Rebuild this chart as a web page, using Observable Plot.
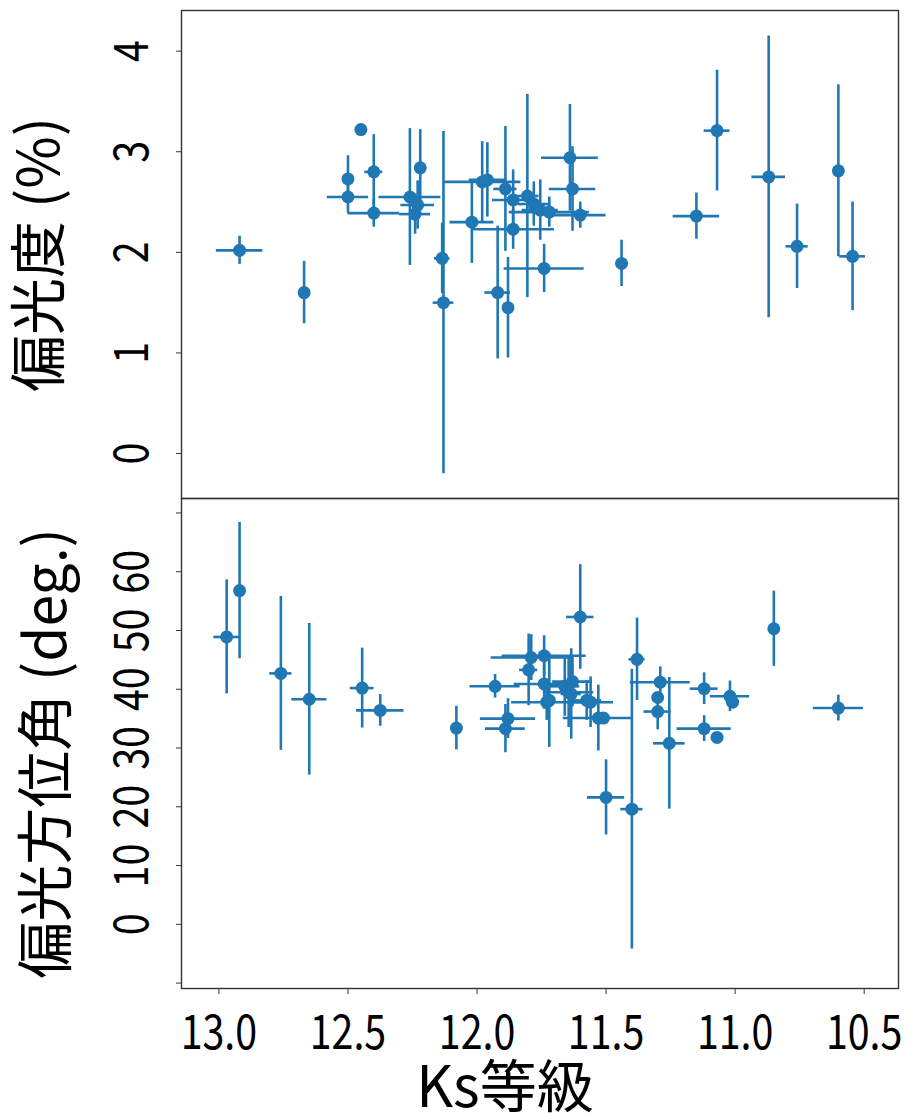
<!DOCTYPE html>
<html>
<head>
<meta charset="utf-8">
<script src="https://cdn.jsdelivr.net/npm/d3@7"></script>
<script src="https://cdn.jsdelivr.net/npm/@observablehq/plot@0.6"></script>
<style>
  body { margin: 0; background: #fff; }
  #chart { width: 910px; }
  #chart svg { display: block; overflow: visible; }
</style>
</head>
<body>
<div id="chart"></div>
<script>
// Upper panel: degree of polarization (%) against Ks magnitude, with errors
const polMag    = [12.92, 12.67, 12.45, 12.50, 12.50, 12.40, 12.40, 12.22, 12.26, 12.23, 12.24, 12.135, 12.13, 12.02, 11.98, 11.96, 11.92, 11.88, 11.89, 11.86, 11.86, 11.805, 11.78, 11.755, 11.72, 11.74, 11.64, 11.63, 11.60, 11.44, 11.15, 11.07, 10.87, 10.76, 10.60, 10.545];
const polValue  = [2.02, 1.60, 3.22, 2.73, 2.55, 2.80, 2.39, 2.84, 2.55, 2.47, 2.38, 1.94, 1.50, 2.30, 2.70, 2.72, 1.60, 1.45, 2.63, 2.52, 2.23, 2.56, 2.48, 2.42, 2.40, 1.84, 2.94, 2.63, 2.37, 1.89, 2.36, 3.21, 2.75, 2.06, 2.81, 1.96];
const polMagErr = [0.09, 0, 0, 0, 0.08, 0.035, 0.10, 0, 0.12, 0.065, 0.06, 0.03, 0.04, 0.085, 0.15, 0.07, 0.05, 0, 0.045, 0.08, 0.16, 0.045, 0.06, 0.07, 0.155, 0.155, 0.11, 0.09, 0.10, 0, 0.09, 0.05, 0.065, 0.043, 0, 0.05];
const polErr    = [0.14, 0.31, 0, 0.23, 0.16, 0.37, 0.14, 0.38, 0.68, 0.24, 0.20, 0.35, 1.70, 0.41, 0.40, 0.37, 0.66, 0.50, 0.62, 0.30, 0.20, 1.01, 0.22, 0.30, 0.15, 0.24, 0.53, 0.42, 0.13, 0.23, 0.23, 0.60, 1.40, 0.42, 0.855, 0.54];

// Lower panel: polarization position angle (deg.) against Ks magnitude
const angMag    = [12.97, 12.92, 12.76, 12.65, 12.445, 12.375, 12.08, 11.93, 11.88, 11.89, 11.80, 11.79, 11.74, 11.74, 11.73, 11.72, 11.66, 11.645, 11.635, 11.63, 11.60, 11.575, 11.56, 11.53, 11.51, 11.50, 11.40, 11.38, 11.29, 11.30, 11.30, 11.255, 11.12, 11.12, 11.07, 11.02, 11.01, 10.85, 10.60];
const angValue  = [48.9, 56.8, 42.7, 38.3, 40.2, 36.4, 33.4, 40.5, 35.0, 33.3, 43.3, 45.4, 45.7, 40.9, 37.8, 38.1, 40.5, 39.5, 39.2, 41.3, 52.3, 38.1, 37.8, 35.1, 35.1, 21.6, 19.6, 45.1, 41.2, 38.6, 36.2, 30.8, 40.1, 33.3, 31.8, 38.8, 37.8, 50.3, 36.8];
const angMagErr = [0.05, 0, 0.043, 0.068, 0.046, 0.092, 0, 0.097, 0.107, 0.077, 0.035, 0.155, 0.163, 0.116, 0.136, 0, 0.058, 0.097, 0.039, 0.077, 0.053, 0.058, 0.089, 0.136, 0, 0.072, 0.043, 0.031, 0.116, 0, 0.053, 0.061, 0.054, 0.105, 0, 0.076, 0, 0, 0.097];
const angErr    = [9.7, 11.6, 13.1, 12.9, 6.8, 2.7, 3.7, 2.0, 3.4, 4.1, 6.1, 3.9, 3.4, 4.3, 3.1, 8.0, 5.1, 6.0, 7.7, 4.3, 8.9, 3.4, 4.3, 5.6, 0, 6.4, 23.8, 7.0, 2.6, 0, 3.1, 11.2, 2.7, 2.2, 0, 2.6, 0, 6.4, 2.2];

// Axis ticks and titles
const magTicks = [13.0, 12.5, 12.0, 11.5, 11.0, 10.5];
const polTicks = [0, 1, 2, 3, 4];
const angTickMarks = [-10, 0, 10, 20, 30, 40, 50, 60, 70];
const angTickLabels = [0, 10, 20, 30, 40, 50, 60];
const polTitle = "偏光度 (%)";
const angTitle = "偏光方位角 (deg.)";
const magTitle = "Ks等級";

const blue = "#1f77b4";
const axisColor = "#333";
const font = "'Noto Sans CJK JP', sans-serif";
const tickFontSize = 48;
const xDomain = [13.145, 10.367];

function rows(xs, ys, xe, ye) {
  return xs.map((x, i) => ({x, y: ys[i], xe: xe[i], ye: ye[i]}));
}

// Error bars first, then the markers on top
function errorMarks(data) {
  return [
    Plot.ruleX(data.filter(d => d.ye > 0), {x: "x", y1: d => d.y - d.ye, y2: d => d.y + d.ye, stroke: blue, strokeWidth: 2.6}),
    Plot.ruleY(data.filter(d => d.xe > 0), {y: "y", x1: d => d.x - d.xe, x2: d => d.x + d.xe, stroke: blue, strokeWidth: 2.6}),
    Plot.dot(data, {x: "x", y: "y", r: 6.5, fill: blue, stroke: null})
  ];
}

// Rotated tick labels on the left of a panel
function yTickLabels(ticks) {
  return Plot.text(ticks, {
    y: d => d, text: d => String(d), frameAnchor: "left", textAnchor: "middle",
    dx: -49, rotate: -90, fontSize: tickFontSize, fontFamily: font, fill: "#000"
  });
}

function yTitle(title, dx, dy) {
  return Plot.text([title], {
    text: d => d, frameAnchor: "left", textAnchor: "middle",
    dx, dy, rotate: -90, fontSize: 57, fontFamily: font, fill: "#000"
  });
}

const polPlot = Plot.plot({
  width: 910, height: 498,
  marginLeft: 181, marginRight: 12, marginTop: 10, marginBottom: 0,
  style: {overflow: "visible"},
  x: {domain: xDomain, axis: null},
  y: {domain: [-0.447, 4.404]},
  marks: [
    ...errorMarks(rows(polMag, polValue, polMagErr, polErr)),
    Plot.frame({stroke: axisColor, strokeWidth: 1.4}),
    Plot.axisY({ticks: polTicks, tickSize: 5, tickFormat: () => "", label: null, stroke: axisColor}),
    yTickLabels(polTicks),
    yTitle(polTitle, -141, 0)
  ]
});

const angPlot = Plot.plot({
  width: 910, height: 615,
  marginLeft: 181, marginRight: 12, marginTop: 0, marginBottom: 125,
  style: {overflow: "visible"},
  x: {domain: xDomain},
  y: {domain: [-10.92, 72.46]},
  marks: [
    ...errorMarks(rows(angMag, angValue, angMagErr, angErr)),
    Plot.frame({stroke: axisColor, strokeWidth: 1.4}),
    Plot.axisY({ticks: angTickMarks, tickSize: 5, tickFormat: () => "", label: null, stroke: axisColor}),
    yTickLabels(angTickLabels),
    yTitle(angTitle, -134, 10),
    Plot.axisX({ticks: magTicks, tickSize: 6, tickFormat: () => "", label: null, stroke: axisColor}),
    Plot.text(magTicks, {
      x: d => d, text: d => d.toFixed(1), frameAnchor: "bottom", dy: 60, lineAnchor: "bottom",
      fontSize: tickFontSize, fontFamily: font, fill: "#000"
    }),
    Plot.text([magTitle], {
      text: d => d, frameAnchor: "bottom", dx: -35, dy: 118, lineAnchor: "bottom",
      fontSize: 57, fontFamily: font, fill: "#000"
    })
  ]
});

// Tick numerals are drawn condensed: squeeze each label along its own text direction
for (const svg of [polPlot, angPlot]) {
  d3.select(svg).selectAll(`g[font-size="${tickFontSize}"] text`).each(function () {
    const t = this.getAttribute("transform") || "";
    this.setAttribute("transform", `${t} scale(0.82,1)`);
  });
}

const chart = document.getElementById("chart");
chart.appendChild(polPlot);
chart.appendChild(angPlot);
</script>
</body>
</html>
